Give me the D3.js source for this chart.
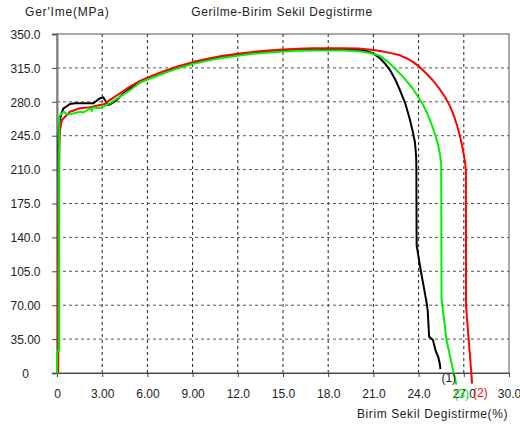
<!DOCTYPE html>
<html>
<head>
<meta charset="utf-8">
<script src="https://cdn.jsdelivr.net/npm/d3@7"></script>
<style>
  body { margin: 0; background: #fff; }
  svg { display: block; }
  text { font-family: "Liberation Sans", Arial, sans-serif; font-size: 12px; fill: #222; }
</style>
</head>
<body>
<svg></svg>
<script>
const width = 520;
const height = 428;

// tick labels as printed on the chart
const xTicks = [0, 3, 6, 9, 12, 15, 18, 21, 24, 27, 30];
const xTickLabels = ["0", "3.00", "6.00", "9.00", "12.0", "15.0", "18.0", "21.0", "24.0", "27.0", "30.0"];
const yTicks = [0, 35, 70, 105, 140, 175, 210, 245, 280, 315, 350];
const yTickLabels = ["0", "35.00", "70.00", "105.0", "140.0", "175.0", "210.0", "245.0", "280.0", "315.0", "350.0"];

// specimen curves: [strain %, stress MPa]
const curve1 = [
  [0.12, 118], [0.12, 195], [0.1, 235], [0.13, 252], [0.2, 262], [0.3, 268], [0.42, 273], [0.86, 277.7],
  [1.2, 278.5], [1.75, 278.4], [2.4, 278.4], [2.85, 283.6], [3.07, 284.6], [3.18, 281.8],
  [3.4, 276.7], [3.63, 278.4], [3.96, 281.8], [4.4, 288.8], [5.5, 300.7], [6, 304], [7, 310],
  [8, 315.5], [9, 320], [10, 323.5], [11, 326.5], [12, 328.5], [13, 330.5], [14, 332], [15, 333],
  [16, 333.8], [17, 334.2], [18, 334.5], [19, 334.5], [19.5, 334.2], [20, 333.5], [20.5, 332.5],
  [21, 330], [21.43, 325], [21.8, 319], [22.1, 312.8], [22.45, 303], [22.76, 292], [23.1, 279],
  [23.4, 263], [23.6, 250], [23.76, 238], [23.83, 225], [23.85, 216.8], [23.87, 132], [24.1, 109.7],
  [24.3, 92.6], [24.5, 75.4], [24.6, 65], [24.7, 37.5], [24.95, 34], [25.15, 22], [25.3, 16.8],
  [25.4, 10], [25.45, 4]
];
const curve2 = [
  [0.08, 0], [0.1, 150], [0.15, 232], [0.2, 250], [0.31, 261], [0.86, 269.8], [1.53, 273.3],
  [2.19, 274.3], [2.85, 276.7], [3.18, 277.7], [3.5, 281.8], [4.18, 288.8], [4.84, 295.6],
  [5.4, 300.7], [6, 305], [7, 311], [8, 316.5], [9, 321], [10, 324.5], [11, 327.5], [12, 329.5],
  [13, 331.5], [14, 333], [15, 334], [16, 334.8], [17, 335.2], [18, 335.4], [19, 335.4],
  [20, 335], [21, 333.5], [21.43, 332.5], [22.1, 330.5], [22.76, 328], [23.2, 325], [23.6, 321.5],
  [24.1, 315.5], [24.5, 309.5], [24.95, 302], [25.4, 293], [25.75, 285], [26.1, 275], [26.38, 264],
  [26.6, 253], [26.8, 241], [26.96, 229], [27.08, 218], [27.14, 209.6], [27.15, 68.5], [27.5, 0],
  [27.55, -11]
];
const curve3 = [
  [0, 0], [0, 23], [0.15, 23], [0.15, 150], [0.15, 265], [0.42, 269.8], [0.7, 267],
  [1.08, 268], [1.53, 269.8], [1.75, 269], [1.97, 270.8], [2.19, 273.3], [2.3, 270.5],
  [2.41, 274.3], [2.74, 273.3], [3.07, 275], [3.5, 278.4], [4.18, 285.3], [4.84, 292],
  [5.5, 299.7], [6, 303], [7, 309], [8, 314.5], [9, 319], [10, 322.5], [11, 325.5], [12, 327.5],
  [13, 329.5], [14, 331], [15, 332], [16, 332.6], [17, 333], [18, 333], [19, 333], [20, 332.2],
  [20.5, 331.2], [21, 329.5], [21.43, 327.5], [21.9, 322], [22.3, 316.5], [22.96, 306],
  [23.6, 294], [24.3, 277], [24.6, 267], [24.86, 257], [25.1, 246], [25.3, 235], [25.43, 225],
  [25.5, 215], [25.52, 77.4], [25.85, 34], [26.5, -12]
];

const series = [
  { name: "(1)", color: "#000000", values: curve1, dx: 1, dy: 9 },
  { name: "(2)", color: "#ff0000", values: curve2, dx: 1, dy: 13 },
  { name: "(3)", color: "#00f000", values: curve3, dx: -2, dy: 13 }
];

const svg = d3.select("svg").attr("width", width).attr("height", height);

const xScale = d3.scaleLinear().domain([0, 30]).range([57, 509]);
const yScale = d3.scaleLinear().domain([0, 350]).range([373, 34]);

// grid
svg.append("g")
  .selectAll("line")
  .data(xTicks.slice(1, -1))
  .enter()
  .append("line")
  .attr("x1", (d) => xScale(d))
  .attr("x2", (d) => xScale(d))
  .attr("y1", yScale(350))
  .attr("y2", yScale(0))
  .attr("stroke", "#222")
  .attr("stroke-dasharray", "3,3");

svg.append("g")
  .selectAll("line")
  .data(yTicks.slice(1, -1))
  .enter()
  .append("line")
  .attr("x1", xScale(0))
  .attr("x2", xScale(30))
  .attr("y1", (d) => yScale(d))
  .attr("y2", (d) => yScale(d))
  .attr("stroke", "#555")
  .attr("stroke-dasharray", "3,3");

// frame
svg.append("rect")
  .attr("x", xScale(0))
  .attr("y", yScale(350))
  .attr("width", xScale(30) - xScale(0))
  .attr("height", yScale(0) - yScale(350))
  .attr("fill", "none")
  .attr("stroke", "#555");

// axes
const xAxis = d3.axisBottom(xScale)
  .tickValues(xTicks)
  .tickSize(4)
  .tickFormat((d, i) => xTickLabels[i]);
const gx = svg.append("g")
  .attr("transform", "translate(0," + yScale(0) + ")")
  .call(xAxis);
gx.select(".domain").attr("stroke", "#444");
gx.selectAll(".tick line").attr("stroke", "#444");
gx.selectAll(".tick text")
  .attr("y", 25)
  .attr("dy", null)
  .attr("fill", "#222")
  .style("font-size", "12px")
  .style("font-family", "Liberation Sans, Arial, sans-serif");

const yAxis = d3.axisLeft(yScale)
  .tickValues(yTicks)
  .tickSize(5)
  .tickFormat((d, i) => yTickLabels[i]);
const gy = svg.append("g")
  .attr("transform", "translate(" + xScale(0) + ",0)")
  .call(yAxis);
gy.select(".domain").attr("stroke", "#808080").attr("stroke-width", 2);
gy.selectAll(".tick line").attr("stroke", "#444");
gy.selectAll(".tick text")
  .attr("x", -31.5)
  .attr("dy", "0.35em")
  .attr("text-anchor", "middle")
  .attr("fill", "#222")
  .style("font-size", "12px")
  .style("font-family", "Liberation Sans, Arial, sans-serif");

// curves
const line = d3.line()
  .x((d) => xScale(d[0]))
  .y((d) => yScale(d[1]));

svg.append("g")
  .selectAll("path")
  .data(series)
  .enter()
  .append("path")
  .attr("d", (s) => line(s.values))
  .attr("fill", "none")
  .attr("stroke", (s) => s.color)
  .attr("stroke-width", 2)
  .attr("stroke-linejoin", "round");

// curve end labels
svg.append("g")
  .selectAll("text")
  .data(series)
  .enter()
  .append("text")
  .attr("x", (s) => xScale(s.values[s.values.length - 1][0]) + s.dx)
  .attr("y", (s) => Math.max(yScale(s.values[s.values.length - 1][1]), yScale(0)) + s.dy)
  .style("fill", (s) => s.color === "#000000" ? "#222" : s.color)
  .text((s) => s.name);

// titles
svg.append("text")
  .attr("x", 25)
  .attr("y", 16)
  .style("letter-spacing", "0.8px")
  .text("Ger'Ime(MPa)");

svg.append("text")
  .attr("x", 282)
  .attr("y", 16)
  .attr("text-anchor", "middle")
  .style("letter-spacing", "0.6px")
  .text("Gerilme-Birim Sekil Degistirme");

svg.append("text")
  .attr("x", 508)
  .attr("y", 418)
  .attr("text-anchor", "end")
  .style("letter-spacing", "0.6px")
  .text("Birim Sekil Degistirme(%)");
</script>
</body>
</html>
